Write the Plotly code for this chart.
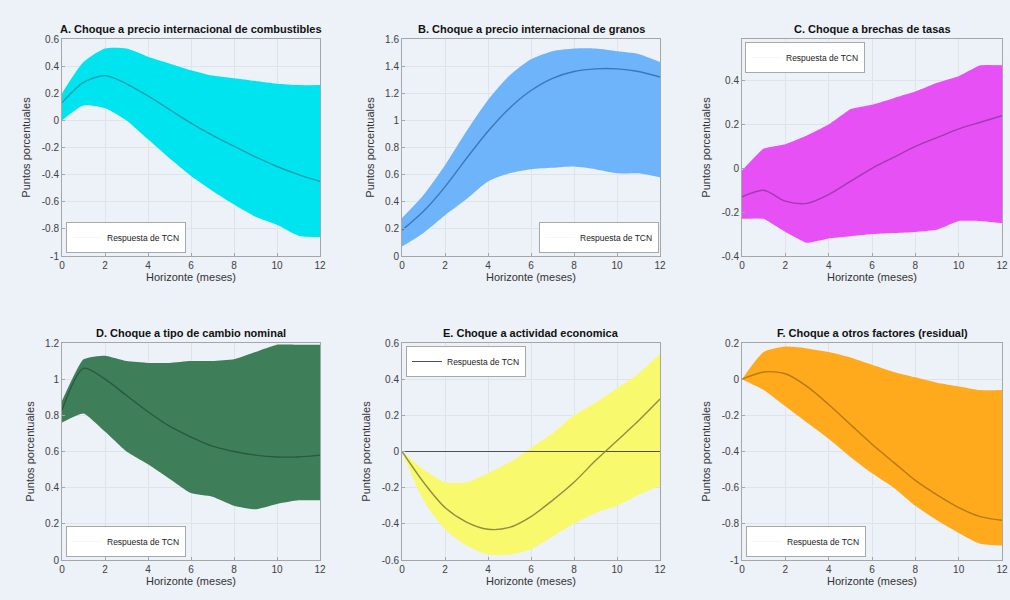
import plotly.graph_objects as go

# Horizon (months) shared by all panels
horizonte = list(range(13))

# A. Fuel price shock
a_sup = [0.20, 0.43, 0.53, 0.53, 0.47, 0.42, 0.37, 0.33, 0.31, 0.29, 0.27, 0.26, 0.26]
a_med = [0.13, 0.28, 0.33, 0.27, 0.18, 0.08, -0.02, -0.11, -0.19, -0.27, -0.34, -0.40, -0.45]
a_inf = [0.00, 0.11, 0.09, 0.00, -0.14, -0.28, -0.41, -0.52, -0.62, -0.71, -0.77, -0.85, -0.86]

# B. Grain price shock
b_sup = [0.28, 0.45, 0.67, 0.92, 1.15, 1.33, 1.45, 1.51, 1.53, 1.53, 1.51, 1.49, 1.43]
b_med = [0.19, 0.33, 0.51, 0.72, 0.92, 1.09, 1.22, 1.31, 1.36, 1.38, 1.38, 1.36, 1.32]
b_inf = [0.07, 0.17, 0.30, 0.42, 0.55, 0.61, 0.64, 0.65, 0.66, 0.64, 0.61, 0.61, 0.58]

# C. Rate-gap shock
c_sup = [-0.01, 0.09, 0.11, 0.15, 0.20, 0.27, 0.29, 0.32, 0.35, 0.39, 0.42, 0.47, 0.47]
c_med = [-0.13, -0.10, -0.15, -0.16, -0.12, -0.06, 0.00, 0.05, 0.10, 0.14, 0.18, 0.21, 0.24]
c_inf = [-0.23, -0.23, -0.29, -0.34, -0.32, -0.31, -0.30, -0.295, -0.29, -0.28, -0.24, -0.24, -0.25]

# D. Nominal exchange-rate shock
d_sup = [0.88, 1.11, 1.13, 1.10, 1.09, 1.09, 1.10, 1.10, 1.11, 1.15, 1.19, 1.19, 1.19]
d_med = [0.83, 1.06, 1.00, 0.91, 0.82, 0.74, 0.68, 0.63, 0.60, 0.58, 0.57, 0.57, 0.58]
d_inf = [0.76, 0.81, 0.71, 0.60, 0.53, 0.45, 0.37, 0.35, 0.30, 0.28, 0.31, 0.33, 0.33]

# E. Economic activity shock
e_sup = [0.00, -0.10, -0.17, -0.17, -0.12, -0.06, 0.02, 0.10, 0.20, 0.27, 0.35, 0.43, 0.54]
e_med = [0.00, -0.17, -0.31, -0.39, -0.43, -0.42, -0.36, -0.27, -0.17, -0.05, 0.06, 0.17, 0.29]
e_inf = [0.00, -0.27, -0.43, -0.52, -0.57, -0.57, -0.54, -0.47, -0.40, -0.34, -0.30, -0.24, -0.19]

# F. Other factors (residual)
f_sup = [0.00, 0.15, 0.18, 0.17, 0.15, 0.12, 0.08, 0.04, 0.01, -0.02, -0.04, -0.06, -0.06]
f_med = [0.00, 0.04, 0.03, -0.04, -0.14, -0.25, -0.36, -0.46, -0.56, -0.64, -0.71, -0.76, -0.78]
f_inf = [0.00, -0.06, -0.15, -0.24, -0.33, -0.43, -0.52, -0.60, -0.70, -0.78, -0.85, -0.91, -0.92]

titulos = [
    "A. Choque a precio internacional de combustibles",
    "B. Choque a precio internacional de granos",
    "C. Choque a brechas de tasas",
    "D. Choque a tipo de cambio nominal",
    "E. Choque a actividad economica",
    "F. Choque a otros factores (residual)",
]
xtick_vals = [0, 2, 4, 6, 8, 10, 12]
ytick_sets = [
    [-1, -0.8, -0.6, -0.4, -0.2, 0, 0.2, 0.4, 0.6],
    [0, 0.2, 0.4, 0.6, 0.8, 1, 1.2, 1.4, 1.6],
    [-0.4, -0.2, 0, 0.2, 0.4],
    [0, 0.2, 0.4, 0.6, 0.8, 1, 1.2],
    [-0.6, -0.4, -0.2, 0, 0.2, 0.4, 0.6],
    [-1, -0.8, -0.6, -0.4, -0.2, 0, 0.2],
]
y_ranges = [[-1, 0.6], [0, 1.6], [-0.4, 0.59], [0, 1.2], [-0.6, 0.6], [-1, 0.2]]

paneles = [
    (a_sup, a_med, a_inf, "#00e4f0", "#1a9fb0"),
    (b_sup, b_med, b_inf, "#6db4fa", "#3b78bb"),
    (c_sup, c_med, c_inf, "#e650f5", "#a23ab2"),
    (d_sup, d_med, d_inf, "#3e7f59", "#2a5a3e"),
    (e_sup, e_med, e_inf, "#f9f96e", "#8e8e44"),
    (f_sup, f_med, f_inf, "#ffaa1c", "#b87912"),
]
band_smooth = [0.6, 0.7, 0.25, 0.45, 0.7, 0.6]
legend_line = ["#f6f6f6", "#f6f6f6", "#f6f6f6", "#f6f6f6", "#505050", "#f6f6f6"]

W, H = 1010, 600
BG = "#edf1f8"
col_px = [(62, 320), (402, 660), (742, 1002)]
row_px = [(39, 256), (343, 560)]

# legend placement: (x px, y px, xanchor, yanchor)
legend_pos = [
    (66, 253, "left", "bottom"),
    (659, 253, "right", "bottom"),
    (745, 42, "left", "top"),
    (66, 557, "left", "bottom"),
    (406, 346, "left", "top"),
    (746, 557, "left", "bottom"),
]


def fmt(v):
    return f"{v:g}"


fig = go.Figure()
layout = dict(
    width=W, height=H,
    margin=dict(l=0, r=0, t=0, b=0),
    paper_bgcolor=BG,
    plot_bgcolor=BG,
    font=dict(family="Liberation Sans, Arial, sans-serif", size=10, color="#333333"),
    showlegend=True,
    annotations=[],
)

for i, (sup, med, inf, fill, line) in enumerate(paneles):
    r, c = divmod(i, 3)
    n = i + 1
    xa = "x" if n == 1 else f"x{n}"
    ya = "y" if n == 1 else f"y{n}"
    leg = "legend" if n == 1 else f"legend{n}"
    x0, x1 = col_px[c]
    y0, y1 = row_px[r]
    sm = band_smooth[i]

    # confidence band: lower edge, then upper edge filled down to it
    fig.add_trace(go.Scatter(
        x=horizonte, y=inf, mode="lines",
        line=dict(width=0, color=fill, shape="spline", smoothing=sm),
        hoverinfo="skip", showlegend=False, xaxis=xa, yaxis=ya,
    ))
    fig.add_trace(go.Scatter(
        x=horizonte, y=sup, mode="lines", fill="tonexty", fillcolor=fill,
        line=dict(width=0, color=fill, shape="spline", smoothing=sm),
        hoverinfo="skip", showlegend=False, xaxis=xa, yaxis=ya,
    ))
    if i == 4:
        fig.add_trace(go.Scatter(
            x=[horizonte[0], horizonte[-1]], y=[0, 0], mode="lines",
            line=dict(color="#505050", width=1), showlegend=False,
            xaxis=xa, yaxis=ya, hoverinfo="skip",
        ))
    # median response
    fig.add_trace(go.Scatter(
        x=horizonte, y=med, mode="lines",
        line=dict(color=line, width=1.4, shape="spline", smoothing=0.8),
        showlegend=False, xaxis=xa, yaxis=ya,
    ))
    # legend entry
    fig.add_trace(go.Scatter(
        x=[None], y=[None], mode="lines", name="Respuesta de TCN",
        line=dict(color=legend_line[i], width=1),
        legend=leg, xaxis=xa, yaxis=ya,
    ))

    axis_common = dict(
        showgrid=True, gridcolor="#dfe3ea", gridwidth=1,
        showline=True, linecolor="#a6a6a6", linewidth=1, mirror=True,
        ticks="inside", ticklen=3, tickcolor="#a6a6a6",
        zeroline=False,
        tickfont=dict(size=10, color="#404040"),
        automargin=False,
    )
    layout["xaxis" if n == 1 else f"xaxis{n}"] = dict(
        axis_common,
        domain=[x0 / W, x1 / W], anchor=ya, range=[0, 12],
        tickvals=xtick_vals, ticktext=[fmt(v) for v in xtick_vals],
        title=dict(text="Horizonte (meses)", font=dict(size=11, color="#333333"), standoff=2),
    )
    layout["yaxis" if n == 1 else f"yaxis{n}"] = dict(
        axis_common,
        domain=[1 - y1 / H, 1 - y0 / H], anchor=xa, range=y_ranges[i],
        tickvals=ytick_sets[i], ticktext=[fmt(v) for v in ytick_sets[i]],
        title=dict(text="Puntos porcentuales", font=dict(size=11, color="#333333"), standoff=8),
    )

    lx, ly, xan, yan = legend_pos[i]
    layout[leg] = dict(
        x=lx / W, y=1 - ly / H, xanchor=xan, yanchor=yan,
        bgcolor="#ffffff", bordercolor="#a8a8a8", borderwidth=1,
        font=dict(size=8.5, color="#222222"),
        itemwidth=30, tracegroupgap=0,
    )

    layout["annotations"].append(dict(
        text=f"<b>{titulos[i]}</b>", xref="paper", yref="paper",
        x=(x0 + x1) / 2 / W, y=1 - (y0 - 2) / H, xanchor="center", yanchor="bottom",
        showarrow=False, font=dict(size=11, color="#111111"),
    ))

fig.update_layout(**layout)
fig.write_html("out.html")
